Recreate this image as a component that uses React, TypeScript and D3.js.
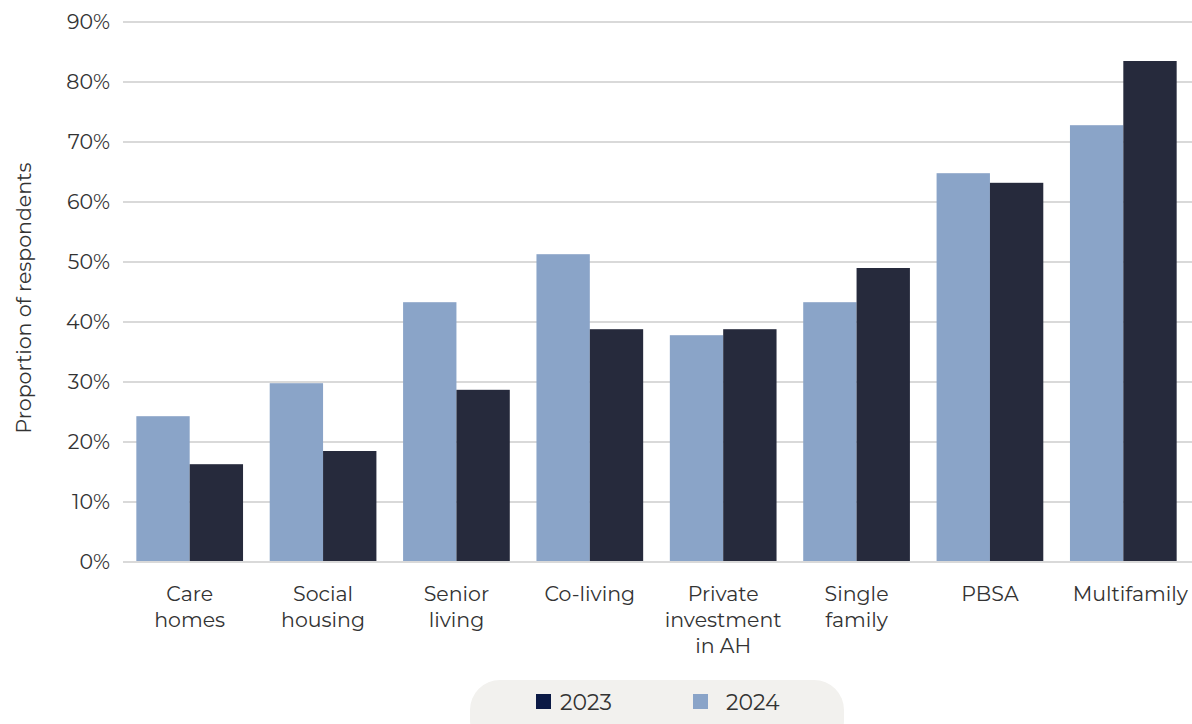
import React from "react";
import * as d3 from "d3";

const categories: string[][] = [
  ["Care", "homes"],
  ["Social", "housing"],
  ["Senior", "living"],
  ["Co-living"],
  ["Private", "investment", "in AH"],
  ["Single", "family"],
  ["PBSA"],
  ["Multifamily"],
];
const values2024 = [24.3, 29.8, 43.3, 51.3, 37.8, 43.3, 64.8, 72.8];
const values2023 = [16.3, 18.5, 28.7, 38.8, 38.8, 49.0, 63.2, 83.5];
const yTicks = [0, 10, 20, 30, 40, 50, 60, 70, 80, 90];
const seriesNames = ["2023", "2024"];

const W = 1192;
const H = 724;
const margin = { left: 123, right: 2, top: 22, bottom: 162 };
const FONT = "'Montserrat', 'Noto Sans', 'Open Sans', sans-serif";

export default function App() {
  const x = d3
    .scaleBand<number>()
    .domain(d3.range(categories.length))
    .range([margin.left, W - margin.right])
    .paddingInner(0.2)
    .paddingOuter(0.1);
  const y = d3.scaleLinear().domain([0, 90]).range([H - margin.bottom, margin.top]);
  const sub = d3.scaleBand<string>().domain(["2024", "2023"]).range([0, x.bandwidth()]);
  const colors: Record<string, string> = { "2024": "#8aa4c8", "2023": "#262a3c" };

  return (
    <div style={{ position: "absolute", left: 0, top: 0 }}>
      <svg width={W} height={H} style={{ display: "block", fontFamily: FONT }}>
        <rect width={W} height={H} fill="#ffffff" />
        {yTicks.map((t) => (
          <g key={t}>
            <line x1={margin.left} x2={W} y1={y(t)} y2={y(t)} stroke="#d9d9d9" strokeWidth={2} />
            <text x={110} y={y(t)} dy="0.35em" textAnchor="end" fontSize={20.5} fill="#333">
              {t}%
            </text>
          </g>
        ))}
        <text
          transform={`translate(31,${(y(0) + y(90)) / 2 + 6}) rotate(-90)`}
          textAnchor="middle"
          fontSize={20.5}
          fill="#333"
        >
          Proportion of respondents
        </text>
        {categories.map((c, i) => (
          <g key={i}>
            <rect
              x={(x(i) as number) + (sub("2024") as number)}
              y={y(values2024[i])}
              width={sub.bandwidth()}
              height={y(0) - y(values2024[i])}
              fill={colors["2024"]}
            />
            <rect
              x={(x(i) as number) + (sub("2023") as number)}
              y={y(values2023[i])}
              width={sub.bandwidth()}
              height={y(0) - y(values2023[i])}
              fill={colors["2023"]}
            />
            {c.map((line, j) => (
              <text
                key={j}
                x={(x(i) as number) + x.bandwidth() / 2 + (i === categories.length - 1 ? 7 : 0)}
                y={601 + j * 26}
                textAnchor="middle"
                fontSize={20.5}
                fill="#333"
              >
                {line}
              </text>
            ))}
          </g>
        ))}
        <line x1={margin.left} x2={W} y1={y(0)} y2={y(0)} stroke="#d9d9d9" strokeWidth={2} />
        <rect x={470} y={680} width={374} height={70} rx={30} fill="#f2f1ee" />
        {seriesNames.map((s, i) => {
          const lx = i === 0 ? 536 : 693;
          const tx = i === 0 ? 560 : 726;
          return (
            <g key={s}>
              <rect x={lx} y={694} width={15} height={15} fill={s === "2023" ? "#0b1a45" : colors["2024"]} />
              <text x={tx} y={702} dy="0.35em" fontSize={22} fill="#333">
                {s}
              </text>
            </g>
          );
        })}
      </svg>
    </div>
  );
}
